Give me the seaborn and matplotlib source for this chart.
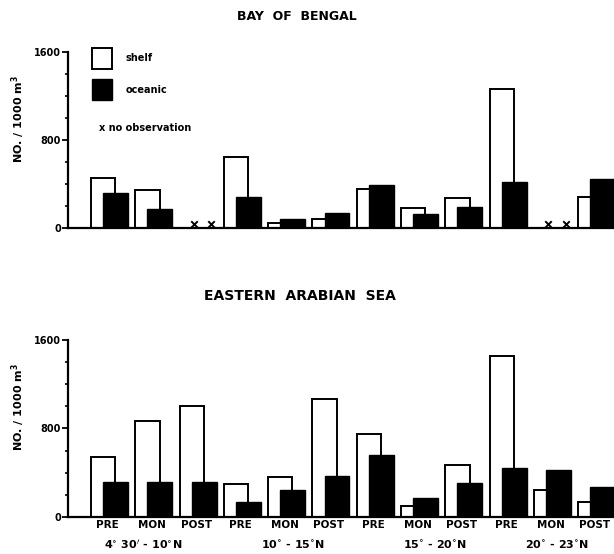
import matplotlib
matplotlib.use("Agg")
import matplotlib.pyplot as plt
import matplotlib.transforms as mtransforms
from matplotlib.patches import Patch
import seaborn as sns
import numpy as np
import pandas as pd

# seasons per latitude zone
seasons = ["PRE", "MON", "POST"] * 4
zones = ["4$^{\\circ}$ 30$'$ - 10$^{\\circ}$N", "10$^{\\circ}$ - 15$^{\\circ}$N",
         "15$^{\\circ}$ - 20$^{\\circ}$N", "20$^{\\circ}$ - 23$^{\\circ}$N"]

# Bay of Bengal (NaN = no observation)
bob_shelf = [452, 350, np.nan, 650, 48, 78, 352, 180, 275, 1262, np.nan, 280]
bob_oceanic = [318, 172, np.nan, 282, 78, 140, 395, 130, 190, 415, np.nan, 445]

# Eastern Arabian Sea
eas_shelf = [542, 872, 999, 301, 363, 1063, 750, 95, 472, 1455, 243, 140]
eas_oceanic = [312, 312, 312, 138, 243, 370, 556, 176, 303, 446, 424, 272]

pos = np.arange(len(seasons))
zone_x = [0.9, 4.3, 7.5, 10.25]

sns.set_style("ticks", {"axes.edgecolor": "black", "text.color": "black",
                        "xtick.color": "black", "ytick.color": "black",
                        "axes.labelcolor": "black"})
plt.rcParams["font.family"] = ["DejaVu Sans"]
plt.rcParams["font.weight"] = "bold"
plt.rcParams["mathtext.default"] = "bf"

fig = plt.figure(figsize=(6.14, 5.54), dpi=100)
ax_top = fig.add_axes([0.111, 0.5884, 0.889, 0.3177])
ax_bot = fig.add_axes([0.111, 0.0668, 0.889, 0.3195])


def draw(ax, shelf, oceanic):
    df = pd.DataFrame({"pos": pos, "shelf": shelf, "oceanic": oceanic})
    df["pos_oc"] = df["pos"] + 0.28
    sns.barplot(data=df, x="pos", y="shelf", native_scale=True, width=0.55,
                color="white", edgecolor="black", linewidth=1.4, saturation=1, ax=ax)
    sns.barplot(data=df, x="pos_oc", y="oceanic", native_scale=True, width=0.56,
                color="black", edgecolor="black", linewidth=1.0, saturation=1, ax=ax)

    # "x" where nothing was sampled
    miss = df[df["shelf"].isna()]
    if len(miss):
        xs = np.concatenate([miss["pos"] + 0.05, miss["pos"] + 0.44])
        sns.scatterplot(x=xs, y=[35] * len(xs), marker="x", color="black",
                        s=22, linewidth=1.4, ax=ax)

    ax.set_xlim(-0.79, 11.535)
    ax.set_ylim(0, 1600)
    ax.set_yticks([0, 800, 1600])
    ax.set_yticks(np.arange(0, 1601, 200), minor=True)
    ax.set_yticklabels(["0", "800", "1600"], fontsize=7, fontweight="bold")
    ax.tick_params(axis="y", which="major", direction="out", length=4, width=1.3, pad=1)
    ax.tick_params(axis="y", which="minor", direction="out", length=2.5, width=1.2)
    ax.set_xlabel("")
    ax.set_ylabel("NO. / 1000 m$^{3}$", fontsize=8, fontweight="bold")
    ax.yaxis.set_label_coords(-0.075, 0.62)
    sns.despine(ax=ax)
    for s in ["left", "bottom"]:
        ax.spines[s].set_linewidth(1.6)


draw(ax_top, bob_shelf, bob_oceanic)
draw(ax_bot, eas_shelf, eas_oceanic)

ax_top.set_xticks([])
ax_bot.set_xticks(pos + 0.1)
ax_bot.set_xticklabels(seasons, fontsize=7.5, fontweight="bold")
ax_bot.tick_params(axis="x", length=0, pad=2)

trans = mtransforms.blended_transform_factory(ax_bot.transData, ax_bot.transAxes)
for x, z in zip(zone_x, zones):
    ax_bot.text(x, -0.155, z, transform=trans, ha="center", va="center",
                fontsize=8, fontweight="bold")

# legend in the upper panel
handles = [Patch(facecolor="white", edgecolor="black", linewidth=1.4, label="shelf"),
           Patch(facecolor="black", edgecolor="black", label="oceanic")]
ax_top.legend(handles=handles, loc="upper left", bbox_to_anchor=(0.044, 1.023),
              frameon=False, handlelength=2.0, handleheight=3.0, labelspacing=1.0,
              handletextpad=1.4, borderaxespad=0, borderpad=0,
              prop={"size": 7, "weight": "bold"})
ax_top.text(0.057, 0.568, "x no observation", transform=ax_top.transAxes,
            fontsize=7, fontweight="bold", va="center")

fig.text(0.484, 1 - 17 / 554, "BAY  OF  BENGAL", ha="center", va="center",
         fontsize=9, fontweight="bold")
fig.text(0.489, 1 - 296 / 554, "EASTERN  ARABIAN  SEA", ha="center", va="center",
         fontsize=10, fontweight="bold")

fig.savefig("out.png", dpi=100)
